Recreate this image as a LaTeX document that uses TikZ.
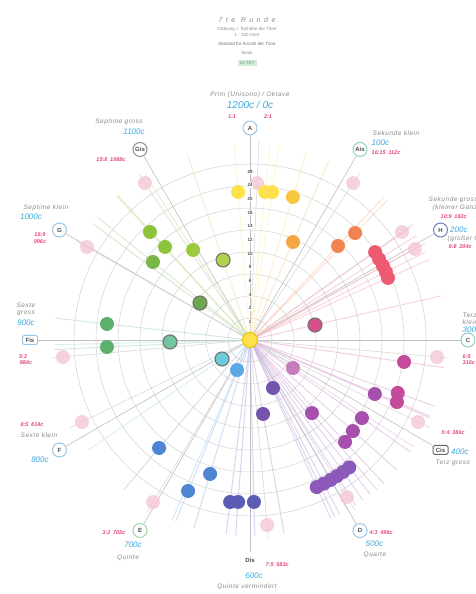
\documentclass[tikz,border=0pt]{standalone}
\usepackage{fontspec}
\setmainfont{Liberation Sans}
\usetikzlibrary{positioning,calc}

\definecolor{yel}{HTML}{FFE14D}
\definecolor{yeldk}{HTML}{E8C400}
\definecolor{yelor}{HTML}{F9C640}
\definecolor{oran}{HTML}{F5A742}
\definecolor{orred}{HTML}{F08450}
\definecolor{redd}{HTML}{EE5A72}
\definecolor{magr}{HTML}{D6508E}
\definecolor{magn}{HTML}{C64A9C}
\definecolor{viol}{HTML}{A64FAC}
\definecolor{lilac}{HTML}{C77BBD}
\definecolor{purp}{HTML}{7654AE}
\definecolor{vio2}{HTML}{8C58BA}
\definecolor{indi}{HTML}{5A5DB3}
\definecolor{blu1}{HTML}{4E84D1}
\definecolor{blu2}{HTML}{5BA9E3}
\definecolor{cya1}{HTML}{6CCBD8}
\definecolor{teal}{HTML}{72C5A0}
\definecolor{gre1}{HTML}{5DAF6E}
\definecolor{gre2}{HTML}{6EA84C}
\definecolor{gre3}{HTML}{7AB648}
\definecolor{lim1}{HTML}{AED24A}
\definecolor{lim2}{HTML}{9BCA3F}
\definecolor{lim3}{HTML}{8CC43F}
\definecolor{pinkf}{HTML}{F4C4D4}
\definecolor{centblue}{HTML}{3AA9DC}
\definecolor{ratiopink}{HTML}{E8457D}
\definecolor{descgray}{HTML}{8A8A8A}
\definecolor{ringblue}{HTML}{9CC6E6}
\definecolor{ringteal}{HTML}{8FD0C0}
\definecolor{ringdark}{HTML}{6B7FC0}
\definecolor{ringgreen}{HTML}{A0D8A0}
\definecolor{legend}{HTML}{CFEFD8}

\begin{document}
\begin{tikzpicture}[x=1pt,y=1pt,
        dot/.style={circle, minimum size=14pt, inner sep=0pt},
        ringdot/.style={dot, draw=black!55, line width=1.1pt},
        ghost/.style={dot, fill=pinkf, opacity=0.75},
        notec/.style={circle, draw=ringblue, line width=1pt, fill=white, minimum size=14pt, inner sep=0pt,
            font=\fontsize{6}{6}\selectfont\bfseries, text=black!70},
        notebox/.style={notec, rectangle, rounded corners=1.5pt, minimum width=15pt, minimum height=9pt},
        cents/.style={font=\fontsize{8}{8}\selectfont\itshape, text=centblue, inner sep=0.5pt},
        ratio/.style={font=\fontsize{5.5}{5.5}\selectfont\bfseries\itshape, text=ratiopink, inner sep=0.5pt},
        desc/.style={font=\fontsize{6.5}{6.5}\selectfont\itshape\addfontfeature{LetterSpace=8}, text=descgray, inner sep=0.5pt},
        sub/.style={font=\fontsize{4.5}{4.5}\selectfont, text=descgray, inner sep=0.3pt},
        scalenum/.style={font=\fontsize{4.5}{4.5}\selectfont\bfseries, text=black!70, fill=white, inner sep=0.6pt},
        webline/.style={draw=gray!35, line width=0.5pt},
        ray/.style={line width=1pt, opacity=0.55}
    ]
    \clip (0,0) rectangle (475,594);
    \fill[white] (0,0) rectangle (475,594);

    % title block
    \node[font=\fontsize{7}{7}\selectfont\itshape\addfontfeature{LetterSpace=50}, text=descgray] (ttl) at (247,574) {7te Runde};
    \node[sub] (st1) at (247,565) {Ordnung = Tonhöhe der Töne};
    \node[sub] (st2) at (247,559) {1 : 100 Cent};
    \node[sub, text=black!55] (st3) at (247,550) {Abstand für Anzahl der Töne};
    \node[sub] (st4) at (247,541) {Skala};
    \node[sub, fill=legend, minimum width=19pt, minimum height=6pt] (leg) at (247,531) {12-TET};

    \begin{scope}[shift={(250,254)}]
        \coordinate (c) at (0,0);

        % web of rings
        \foreach \r in {22,44,...,176}
            \draw[webline] (c) circle[radius=\r pt];

        % note circles
        \node[notec] (nA) at (90:212) {A};
        \node[notec, draw=ringteal] (nAis) at (60:220) {Ais};
        \node[notec, draw=ringdark] (nH) at (30:220) {H};
        \node[notec, draw=ringteal] (nC) at (0:218) {C};
        \node[notebox, draw=black!60] (nCis) at (-30:220) {Cis};
        \node[notec] (nD) at (-60:220) {D};
        \node[notec, draw=white] (nDis) at (-90:220) {Dis};
        \node[notec, draw=ringgreen] (nE) at (-120:220) {E};
        \node[notec] (nF) at (-150:220) {F};
        \node[notebox] (nFis) at (180:220) {Fis};
        \node[notec] (nG) at (150:220) {G};
        \node[notec, draw=black!45] (nGis) at (120:220) {Gis};

        % labels
        \node[cents, font=\fontsize{10}{10}\selectfont\itshape] (cA) [above=11pt of nA] {1200c / 0c};
        \node[desc] (tA) [above=2pt of cA] {Prim (Unisono) / Oktave};
        \node[ratio] (rA1) at ($(nA)+(-18,11)$) {1:1};
        \node[ratio] (rA2) at ($(nA)+(18,11)$) {2:1};

        \node[desc, anchor=west] (tAis) at ($(nAis)+(12,16.5)$) {Sekunde klein};
        \node[cents, anchor=west] (cAis) at ($(nAis)+(11,6.5)$) {100c};
        \node[ratio, anchor=west] (rAis) at ($(nAis)+(11,-3.5)$) {16:15\enspace 112c};

        \node[desc, anchor=west] (tH1) at ($(nH)+(-12.5,30)$) {Sekunde gross};
        \node[desc, anchor=west] (tH2) at ($(nH)+(-8.5,22)$) {(kleiner Ganzton)};
        \node[ratio, anchor=west] (rH1) at ($(nH)+(-0.5,13)$) {10:9\enspace 182c};
        \node[cents, anchor=west] (cH) at ($(nH)+(9,0)$) {200c};
        \node[desc, anchor=west] (tH3) at ($(nH)+(6.5,-8.5)$) {(großer Ganzton)};
        \node[ratio, anchor=west] (rH2) at ($(nH)+(7.5,-17)$) {9:8\enspace 204c};

        \node[desc, anchor=west] (tC1) at ($(nC)+(-6,25)$) {Terz};
        \node[desc, anchor=west] (tC2) at ($(nC)+(-6,18)$) {klein};
        \node[cents, anchor=west] (cC) at ($(nC)+(-6,10)$) {300c};
        \node[ratio, anchor=west] (rC1) at ($(nC)+(-6,-17)$) {6:5};
        \node[ratio, anchor=west] (rC2) at ($(nC)+(-6,-23)$) {316c};

        \node[ratio, anchor=west] (rCis) at ($(nCis)+(0.5,17)$) {5:4\enspace 386c};
        \node[cents, anchor=west] (cCis) at ($(nCis)+(10,-2)$) {400c};
        \node[desc, anchor=west] (tCis) at ($(nCis)+(-5.5,-13)$) {Terz gross};

        \node[ratio, anchor=west] (rD) at ($(nD)+(9,-2)$) {4:3\enspace 498c};
        \node[cents, anchor=west] (cD) at ($(nD)+(5,-13.5)$) {500c};
        \node[desc, anchor=west] (tD) at ($(nD)+(3,-24.5)$) {Quarte};

        \node[ratio, anchor=west] (rDis) at ($(nDis)+(15,-5)$) {7:5\enspace 583c};
        \node[cents] (cDis) at ($(nDis)+(4,-16)$) {600c};
        \node[desc] (tDis) at ($(nDis)+(-3,-27)$) {Quinte vermindert};

        \node[ratio, anchor=east] (rE) at ($(nE)+(-14,-2.5)$) {3:2\enspace 702c};
        \node[cents] (cE) at ($(nE)+(-7,-14.5)$) {700c};
        \node[desc] (tE) at ($(nE)+(-12,-27.5)$) {Quinte};

        \node[ratio] (rF) at ($(nF)+(-27.5,25)$) {8:5\enspace 814c};
        \node[desc] (tF) at ($(nF)+(-20.5,15)$) {Sexte klein};
        \node[cents] (cF) at ($(nF)+(-19.5,-10)$) {800c};

        \node[desc] (tFis1) at ($(nFis)+(-4,35)$) {Sexte};
        \node[desc] (tFis2) at ($(nFis)+(-4,27)$) {gross};
        \node[cents] (cFis) at ($(nFis)+(-4,17)$) {900c};
        \node[ratio] (rFis1) at ($(nFis)+(-7,-17)$) {5:3};
        \node[ratio] (rFis2) at ($(nFis)+(-4,-23)$) {884c};

        \node[desc] (tG) at ($(nG)+(-13.5,22)$) {Septime klein};
        \node[cents] (cG) at ($(nG)+(-28.5,13)$) {1000c};
        \node[ratio] (rG1) at ($(nG)+(-19.5,-5)$) {16:9};
        \node[ratio] (rG2) at ($(nG)+(-19.5,-11.5)$) {996c};

        \node[desc] (tGis) at ($(nGis)+(-21,27.5)$) {Septime gross};
        \node[cents] (cGis) at ($(nGis)+(-6,17.5)$) {1100c};
        \node[ratio] (rGis) at ($(nGis)+(-29,-10.5)$) {15:8\enspace 1088c};

        % grey rays to the twelve notes
        \foreach \n in {A,Ais,H,C,Cis,D,Dis,E,F,Fis,G,Gis}
            \draw[gray!50, line width=0.6pt] (c) -- (n\n);

        % dot data: angle/radius/colour
        \def\dotlist{94.6/148.5/yel, 84.2/148.8/yel, 81.5/149.6/yel, 73.3/149.3/yelor,
            66.3/107/oran, 46.9/128.8/orred, 45.5/150/orred,
            35.1/152.9/redd, 32.1/152.3/redd, 29.1/152.2/redd, 26.6/152/redd, 24.2/151.3/redd,
            -8.1/155.6/magn, -19.7/157/magn, -22.9/159.5/magn,
            -23.4/136/viol, -34.9/136.5/viol, -41.5/137.4/viol, -47/139.4/viol,
            -33.1/51.3/lilac, -49.7/95.8/viol, -64.4/53.2/purp, -80/75.1/purp,
            -65.6/161.5/vio2, -62.8/161.5/vio2, -60/161.5/vio2, -57.4/161.5/vio2, -54.8/161.5/vio2, -52.1/161.5/vio2,
            -97/163.2/indi, -94.2/162.4/indi, -88.6/162/indi,
            -106.6/139.8/blu1, -112.3/163.2/blu1, -130.1/141.2/blu1, -113.4/32.7/blu2,
            173.6/143.9/gre1, 182.8/143.2/gre1, 141.2/124.5/gre3,
            122.3/106.5/lim2, 132.8/147.2/lim3, 132.4/126/lim3}
        \def\ringlist{13/66.7/magr, -145.8/33.8/cya1, 181.4/80/teal, 143.5/62.2/gre2, 108.6/84.4/lim1}
        \def\ghostlist{87.4/157, 123.8/188.9, 56.7/187.8, 35.4/186.5, 28.9/188.4, 150.3/187.7,
            -174.8/187.8, -154/187, -120.9/188.8, -84.7/185.8, -58.3/184.5, -5.2/187.8, -26/187}

        % rays
        \foreach \a/\r [count=\i] in \ghostlist {
            \coordinate (ge\i) at (\a:200);
            \draw[gray!30, line width=0.6pt] (c) -- (ge\i);
        }
        \foreach \a/\r/\col [count=\i] in \dotlist {
            \coordinate (de\i) at (\a:196);
            \draw[ray, draw=\col!45] (c) -- (de\i);
        }
        \foreach \a/\r/\col [count=\i] in \ringlist {
            \coordinate (re\i) at (\a:196);
            \draw[ray, draw=\col!45] (c) -- (re\i);
        }

        % dots
        \foreach \a/\r [count=\i] in \ghostlist
            \node[ghost] (g\i) at (\a:\r) {};
        \foreach \a/\r/\col [count=\i] in \dotlist
            \node[dot, fill=\col] (d\i) at (\a:\r) {};
        \foreach \a/\r/\col [count=\i] in \ringlist
            \node[ringdot, fill=\col] (o\i) at (\a:\r) {};
        \node[dot, fill=yel, draw=yeldk, line width=1pt, minimum size=15pt] (cy) at (c) {};

        % scale along the axis
        \foreach \r/\t [count=\i] in {18/1, 31.6/2, 45.3/4, 59/6, 72.6/8, 86.3/10, 100/12,
                113.6/14, 127.3/16, 141/20, 154.6/24, 168/28}
            \node[scalenum] (s\i) at (90:\r) {\t};
    \end{scope}
\end{tikzpicture}
\end{document}
